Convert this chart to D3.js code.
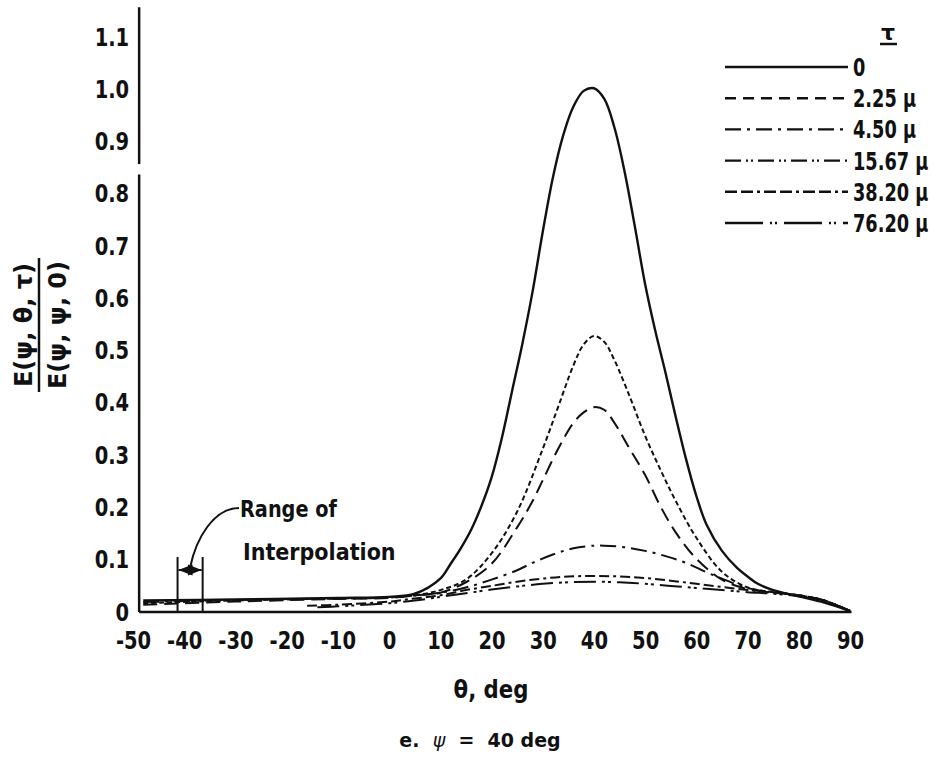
<!DOCTYPE html>
<html>
<head>
<meta charset="utf-8">
<script src="https://cdn.jsdelivr.net/npm/d3@7/dist/d3.min.js"></script>
<style>
  html, body { margin: 0; padding: 0; background: #fff; }
  svg { display: block; }
  .lbl { font-family: "DejaVu Sans", sans-serif; font-weight: bold; fill: #111; }
</style>
</head>
<body>
<svg id="chart" width="936" height="758"></svg>
<script>
// ---------------- data ----------------
const seriesLabels = ["0", "2.25 \u00b5", "4.50 \u00b5", "15.67 \u00b5", "38.20 \u00b5", "76.20 \u00b5"];

const theta0   = [-48,-30,-10,0,5,10,12,14,16,18,20,22,24,26,28,30,32,34,36,38,40,42,44,46,48,50,52,54,56,58,60,62,65,68,70,72,75,80,85,90];
const value0   = [0.020,0.022,0.025,0.027,0.033,0.062,0.09,0.12,0.155,0.20,0.255,0.33,0.42,0.51,0.61,0.725,0.83,0.91,0.965,0.995,1.0,0.98,0.925,0.84,0.735,0.625,0.535,0.455,0.37,0.29,0.22,0.165,0.115,0.082,0.066,0.052,0.04,0.028,0.016,0];

const theta225 = [-48,-30,-10,0,5,10,15,20,25,30,33,36,38,40,42,44,47,50,53,56,60,65,70,75,80,85,90];
const value225 = [0.015,0.020,0.024,0.026,0.030,0.040,0.060,0.11,0.19,0.31,0.39,0.47,0.51,0.526,0.515,0.48,0.41,0.335,0.27,0.21,0.14,0.075,0.045,0.036,0.030,0.020,0];

const theta450 = [-48,-30,-10,0,5,10,15,20,25,28,30,33,36,38,40,42,44,47,50,53,56,60,65,70,75,80,85,90];
const value450 = [0.012,0.018,0.023,0.025,0.030,0.035,0.055,0.09,0.16,0.21,0.25,0.31,0.36,0.38,0.39,0.385,0.36,0.31,0.26,0.20,0.15,0.10,0.06,0.042,0.036,0.030,0.020,0];

const theta1567 = [-48,-30,-10,0,10,15,20,25,28,32,36,40,42,46,50,54,58,62,65,70,75,80,85,90];
const value1567 = [0.017,0.021,0.024,0.026,0.035,0.045,0.060,0.078,0.092,0.108,0.12,0.125,0.125,0.122,0.115,0.105,0.092,0.074,0.062,0.044,0.036,0.030,0.020,0];

const theta3820 = [-16,-10,0,5,10,15,20,25,30,35,40,45,50,55,60,65,70,75,80,85,90];
const value3820 = [0.010,0.012,0.018,0.024,0.030,0.040,0.048,0.056,0.062,0.066,0.067,0.066,0.063,0.058,0.052,0.046,0.040,0.035,0.030,0.020,0];

const theta7620 = [-14,-10,0,5,10,15,20,25,30,35,40,45,50,55,60,65,70,75,80,85,90];
const value7620 = [0.007,0.009,0.015,0.020,0.027,0.034,0.041,0.047,0.052,0.055,0.056,0.055,0.052,0.048,0.044,0.040,0.036,0.033,0.028,0.018,0];

const xTicks = [-50,-40,-30,-20,-10,0,10,20,30,40,50,60,70,80,90];
const yTicks = [0,0.1,0.2,0.3,0.4,0.5,0.6,0.7,0.8,0.9,1.0,1.1];
const interpRange = [-41.3, -36.4];

// ---------------- styles ----------------
const curveDash  = [null, "5,3", "14,7", "16,6,3,6", "10,4,10,4,3,4", "22,6,3,3,3,6"];
const legendDash = [null, "11,7", "16,6,3,6", "16,5,2,3,2,5", "12,4,12,4,3,4", "38,7,2,3,2,7"];

const thetas = [theta0, theta225, theta450, theta1567, theta3820, theta7620];
const values = [value0, value225, value450, value1567, value3820, value7620];
const series = thetas.map((t, i) => t.map((th, j) => ({ x: th, y: values[i][j] })));

// ---------------- scales ----------------
const svg = d3.select("#chart");
const x = d3.scaleLinear().domain([-50, 90]).range([133, 850]);
const y = d3.scaleLinear().domain([0, 1.1]).range([611, 36]);
const axisX0 = x(-48.8);

// axes lines (with break between 0.8 and 0.9)
const axisG = svg.append("g").attr("stroke", "#111").attr("stroke-width", 2.5);
axisG.append("line").attr("x1", axisX0).attr("x2", axisX0).attr("y1", y(0) + 1).attr("y2", y(0.835));
axisG.append("line").attr("x1", axisX0).attr("x2", axisX0).attr("y1", y(0.855)).attr("y2", y(1.155));
axisG.append("line").attr("x1", axisX0).attr("x2", x(90.3)).attr("y1", y(0) + 1).attr("y2", y(0) + 1);

// y tick labels
const yAxis = d3.axisLeft(y).tickValues(yTicks).tickSize(0).tickPadding(10)
  .tickFormat(d => d === 0 ? "0" : d3.format(".1f")(d));
const gy = svg.append("g").attr("transform", `translate(${axisX0},0)`).call(yAxis);
gy.select(".domain").remove();
gy.selectAll("text").attr("class", "lbl").style("font-size", "25px").attr("dy", "0.36em").attr("fill", "#111")
  .attr("data-sq", 0.78);

// x tick labels (hyphen-minus like the original lettering)
const xAxis = d3.axisBottom(x).tickValues(xTicks).tickSize(0).tickPadding(20).tickFormat(d => String(d));
const gx = svg.append("g").attr("transform", `translate(0,${y(0)})`).call(xAxis);
gx.select(".domain").remove();
gx.selectAll("text").attr("class", "lbl").style("font-size", "25px").attr("fill", "#111").attr("data-sq", 0.78);

// curves
const line = d3.line().x(d => x(d.x)).y(d => y(d.y)).curve(d3.curveCatmullRom.alpha(0.5));
svg.append("g").selectAll("path").data(series).join("path")
  .attr("d", line)
  .attr("fill", "none")
  .attr("stroke", "#111")
  .attr("stroke-width", (d, i) => i === 0 ? 2.4 : 2)
  .attr("stroke-dasharray", (d, i) => curveDash[i]);

// legend
const legend = svg.append("g");
const legY0 = 67, legStep = 31.2;
legend.append("text").attr("class", "lbl").attr("x", 888).attr("y", 40)
  .attr("text-anchor", "middle").style("font-size", "22px").text("\u03c4");
legend.append("line").attr("x1", 880).attr("x2", 897).attr("y1", 44).attr("y2", 44)
  .attr("stroke", "#111").attr("stroke-width", 2.5);
seriesLabels.forEach((lab, i) => {
  const yy = legY0 + i * legStep;
  legend.append("line").attr("x1", 725).attr("x2", 848).attr("y1", yy).attr("y2", yy)
    .attr("stroke", "#111").attr("stroke-width", 2.4).attr("stroke-dasharray", legendDash[i]);
  legend.append("text").attr("class", "lbl").attr("x", 853).attr("y", yy + 9)
    .style("font-size", "24px").attr("data-sq", 0.74).text(lab);
});

// range-of-interpolation annotation
const ann = svg.append("g").attr("stroke", "#111").attr("fill", "none").attr("stroke-width", 2);
interpRange.forEach(t => {
  ann.append("line").attr("x1", x(t)).attr("x2", x(t)).attr("y1", 557).attr("y2", y(0) + 1);
});
const defs = svg.append("defs");
defs.append("marker").attr("id", "ah").attr("viewBox", "0 0 10 10").attr("refX", 10).attr("refY", 5)
  .attr("markerWidth", 7).attr("markerHeight", 7).attr("orient", "auto-start-reverse")
  .append("path").attr("d", "M0,1 L10,5 L0,9 Z").attr("fill", "#111").attr("stroke", "none");
ann.append("line").attr("x1", x(interpRange[0]) + 1).attr("x2", x(interpRange[1]) - 1)
  .attr("y1", 570).attr("y2", 570)
  .attr("marker-start", "url(#ah)").attr("marker-end", "url(#ah)");
ann.append("path").attr("d", "M239,508 C214,508 196,538 190,568");

svg.append("text").attr("class", "lbl").attr("x", 240).attr("y", 517).style("font-size", "23px")
  .attr("data-sq", 0.84).text("Range of");
svg.append("text").attr("class", "lbl").attr("x", 243).attr("y", 560).style("font-size", "23px")
  .attr("data-sq", 0.9).text("Interpolation");

// axis titles
svg.append("text").attr("class", "lbl").attr("x", 491).attr("y", 698).attr("text-anchor", "middle")
  .style("font-size", "25px").attr("data-sq", 0.85).text("\u03b8, deg");

const cap = svg.append("text").attr("x", 480).attr("y", 747).attr("text-anchor", "middle")
  .style("font-family", "'DejaVu Sans', sans-serif").style("font-weight", "bold").style("font-size", "19px")
  .attr("fill", "#111").attr("xml:space", "preserve").style("white-space", "pre");
cap.append("tspan").text("e.  ");
cap.append("tspan").style("font-style", "italic").style("font-weight", "normal").text("\u03c8");
cap.append("tspan").text("  =  40 deg");

// y-axis title as a rotated fraction
const yt = svg.append("g").attr("transform", "translate(0,325)");
yt.append("text").attr("class", "lbl").attr("transform", "translate(32,0) rotate(-90)")
  .attr("text-anchor", "middle").style("font-size", "24px").text("E(\u03c8, \u03b8, \u03c4)");
yt.append("line").attr("x1", 39).attr("x2", 39).attr("y1", -67).attr("y2", 67)
  .attr("stroke", "#111").attr("stroke-width", 2.5);
yt.append("text").attr("class", "lbl").attr("transform", "translate(66,0) rotate(-90)")
  .attr("text-anchor", "middle").style("font-size", "24px").text("E(\u03c8, \u03c8, 0)");

// squeeze the bold lettering horizontally (about its anchor x), like the condensed hand lettering
svg.selectAll("text.lbl").each(function () {
  const f = +this.getAttribute("data-sq") || 1;
  if (f !== 1 && !this.getAttribute("transform")) {
    const ax = +this.getAttribute("x") || 0;
    d3.select(this).attr("transform", `translate(${ax * (1 - f)},0) scale(${f},1)`);
  }
});
</script>
</body>
</html>
